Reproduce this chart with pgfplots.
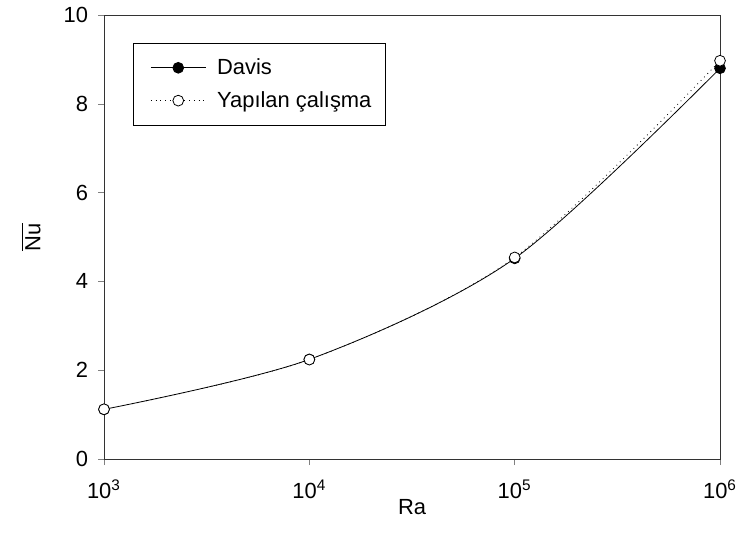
\documentclass[border=0pt]{standalone}
\usepackage{fontspec}
\setmainfont{Liberation Sans}
\usepackage{pgfplots}
\pgfplotsset{compat=1.18}

\begin{document}
\begin{tikzpicture}
  \begin{axis}[
    scale only axis,
    width=308bp,
    height=222bp,
    xmode=log,
    xmin=1e3, xmax=1e6,
    ymin=0, ymax=10,
    xtick={1e3,1e4,1e5,1e6},
    xticklabels={10\textsuperscript{3},10\textsuperscript{4},10\textsuperscript{5},10\textsuperscript{6}},
    ytick={0,2,4,6,8,10},
    xminorticks=false,
    tick align=outside,
    tick pos=left,
    major tick length=3bp,
    /pgf/number format/assume math mode=true,
    tick label style={font=\fontsize{11}{13}\selectfont},
    xticklabel style={yshift=-4bp},
    yticklabel style={xshift=-1.5bp},
    label style={font=\fontsize{11}{13}\selectfont},
    xlabel={Ra},
    ylabel={$\overline{\mbox{Nu}}$},
    xlabel style={at={(axis description cs:0.5,0)}, anchor=center, yshift=-24bp},
    ylabel style={at={(axis description cs:0,0.5)}, anchor=center, yshift=36.5bp},
    legend style={at={(0.047,0.937)}, anchor=north west, draw=black,
      font=\fontsize{11}{13}\selectfont, inner xsep=5bp, inner ysep=5.5bp,
      row sep=3bp},
    legend cell align=left,
    legend image code/.code={%
      \path (-3.5bp,0bp) (31bp,0bp);
      \draw[#1,mark repeat=2,mark phase=2] plot coordinates {(0bp,0bp)(13.75bp,0bp)(27.5bp,0bp)};},
    axis line style={black!80},
  ]
    \addplot [black, smooth, tension=0.5, mark=*, mark size=2.7bp, mark options={solid, fill=black}] coordinates {
      (1e3, 1.118)
      (1e4, 2.243)
      (1e5, 4.519)
      (1e6, 8.800)
    };
    \addplot [black, dotted, smooth, tension=0.5, mark=*, mark size=2.7bp, mark options={solid, fill=white}] coordinates {
      (1e3, 1.12)
      (1e4, 2.24)
      (1e5, 4.54)
      (1e6, 8.97)
    };
    \legend{Davis, Yapılan çalışma}
  \end{axis}
  \pgfresetboundingbox
  \path (current axis.south west) ++(-52bp,-45bp) rectangle ([shift={(10bp,7.5bp)}]current axis.north east);
\end{tikzpicture}
\end{document}
